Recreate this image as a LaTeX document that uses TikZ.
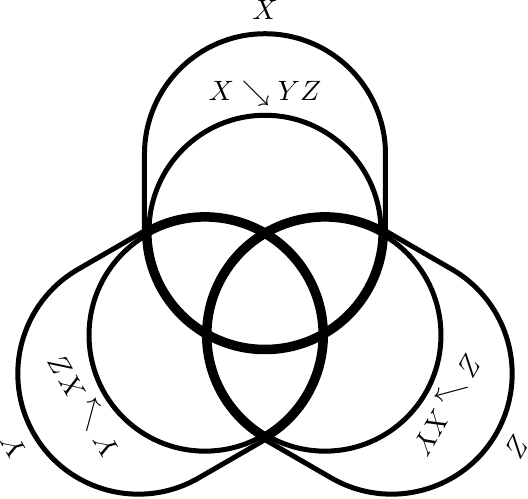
\documentclass[tikz,border=0pt]{standalone}
\usetikzlibrary{calc}
\tikzset{
  setline/.style={line width=1.785pt},
  setcircle/.style={setline, draw, circle, minimum size=82.82pt, inner sep=0pt, outer sep=0pt},
  capsule/.style={setline, line join=round},
  lbl/.style={inner sep=0pt}
}
\begin{document}
\begin{tikzpicture}[x=1pt,y=1pt]
\useasboundingbox (-94.6,-70.51) rectangle (93.89,107.28);
% circle centres
\node[setcircle] (cx) at (90:24.73) {};
\node[setcircle] (cy) at (210:24.73) {};
\node[setcircle] (cz) at (330:24.73) {};
% capsules
\foreach \t/\c in {90/cx,210/cy,330/cz}{
  \draw[capsule] ($(\c)+(\t-90:43.02)+(\t:27.49)$)
     arc[start angle=\t-90, end angle=\t+90, radius=43.02]
     -- ++(\t+180:27.49)
     arc[start angle=\t+90, end angle=\t+270, radius=43.02]
     -- cycle;
}
% outer labels
\node[lbl, rotate=0]    (lx) at ($(cx)+(90:79.16)$)  {$X$};
\node[lbl, rotate=120]  (ly) at ($(cy)+(210:79.16)$) {$Y$};
\node[lbl, rotate=240]  (lz) at ($(cz)+(330:79.16)$) {$Z$};
% inner labels
\node[lbl, rotate=0]    (ix) at ($(cx)+(90:49.3)$)  {$X\searrow YZ$};
\node[lbl, rotate=120]  (iy) at ($(cy)+(210:49.3)$) {$Y\searrow XZ$};
\node[lbl, rotate=240]  (iz) at ($(cz)+(330:49.3)$) {$Z\searrow XY$};
\end{tikzpicture}
\end{document}
